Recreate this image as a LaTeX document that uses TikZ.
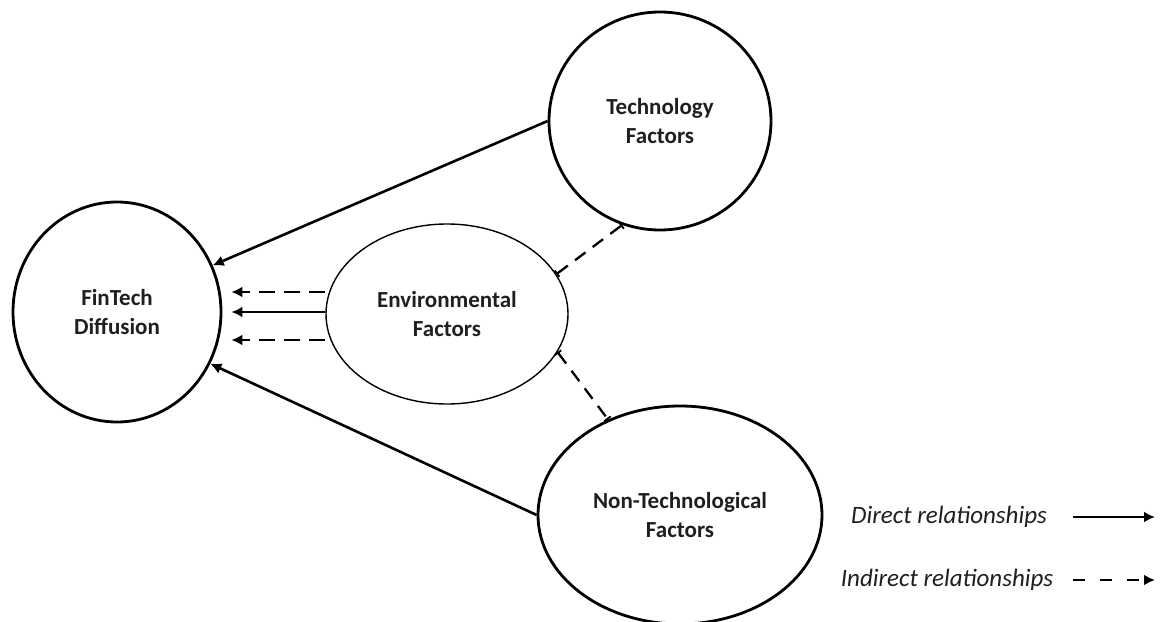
\documentclass[tikz,border=0pt]{standalone}
\usepackage{fontspec}
\setmainfont{Carlito}
\usetikzlibrary{arrows.meta,shapes.geometric}
\begin{document}
\begin{tikzpicture}[x=1pt,y=-1pt,
  factor/.style={ellipse, draw=black, line width=2.8pt, inner sep=0pt, align=center,
    font=\bfseries\fontsize{23}{28.5}\selectfont, text=black!88},
  thinfactor/.style={factor, line width=1.4pt},
  legendtext/.style={inner sep=0pt, font=\itshape\fontsize{25}{30}\selectfont, text=black!88},
  tipstyle/.style={-{Latex[length=11pt,width=11pt]}},
  direct/.style={tipstyle, line width=2.6pt},
  indirect/.style={tipstyle, line width=2.6pt, dash pattern=on 16pt off 9pt},
  link/.style={line width=2.3pt, dash pattern=on 13pt off 9pt,
    {Bar[width=8pt,line width=1.8pt]}-{Bar[width=8pt,line width=1.8pt]}}
]
\useasboundingbox (0,0) rectangle (1161,621);

% the four factor bubbles
\node[factor, minimum width=208pt, minimum height=220pt] (fin) at (117,312) {FinTech\\Diffusion};
\node[thinfactor, minimum width=242pt, minimum height=180pt] (env) at (447,314) {Environmental\\Factors};
\node[factor, minimum width=222pt, minimum height=218pt] (tech) at (660,121) {Technology\\Factors};
\node[factor, minimum width=284pt, minimum height=218pt] (non) at (680,515) {Non-Technological\\Factors};

% direct effects on diffusion
\draw[direct] (tech.180) -- (fin.26);
\draw[direct] (non.180) -- (fin.-29);

% environmental factors into diffusion
\draw[indirect, shorten >=9pt] ([yshift=22pt]env.west) -- ([yshift=22pt]env.west -| fin.east);
\draw[direct, shorten >=9pt] ([yshift=2pt]env.west) -- ([yshift=2pt]env.west -| fin.east);
\draw[indirect, shorten >=9pt] ([yshift=-26pt]env.west) -- ([yshift=-26pt]env.west -| fin.east);

% links between environment and the other factors
\draw[link] (env.20) -- (tech.250);
\draw[link] (env.-19) -- (non.127);

% legend
\node[legendtext] (ldir) at (949,517) {Direct relationships};
\node[legendtext] (lind) at (947,580) {Indirect relationships};
\coordinate (ldirA) at (1073,517);
\coordinate (ldirB) at (1155,517);
\coordinate (lindA) at (1073,580);
\coordinate (lindB) at (1155,580);
\draw[direct] (ldirA) -- (ldirB);
\draw[tipstyle, line width=2.6pt, dash pattern=on 12pt off 15pt] (lindA) -- (lindB);
\end{tikzpicture}
\end{document}
